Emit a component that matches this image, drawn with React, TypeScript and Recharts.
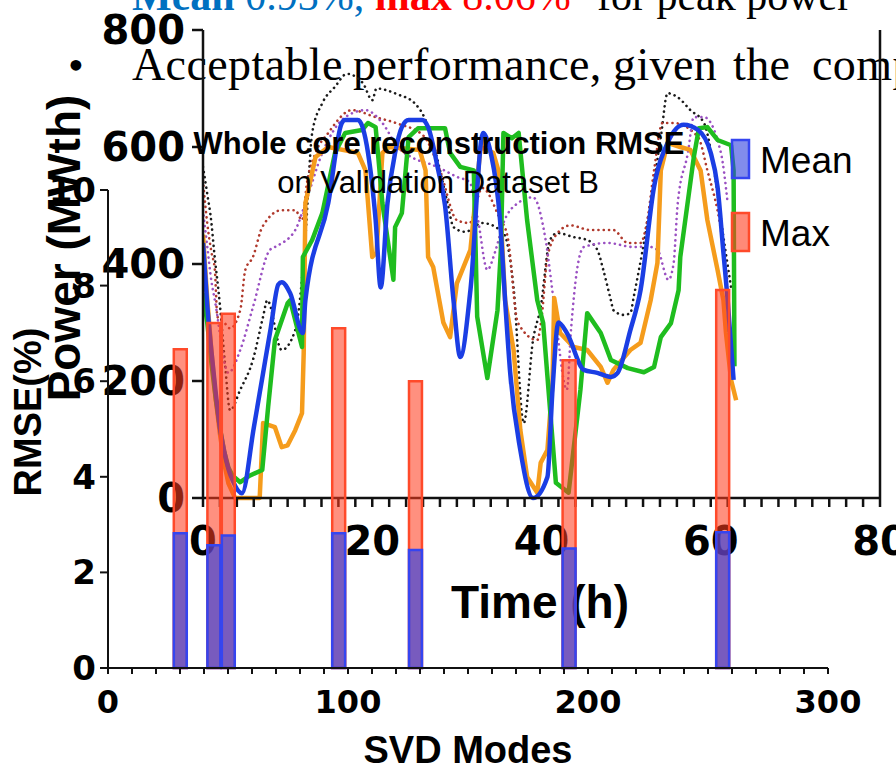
import React from 'react';
import { LineChart, Line, BarChart, Bar, XAxis, YAxis, Legend } from 'recharts';

// ---- RMSE bar chart (SVD modes) ----
const svdModes = [30, 44, 50, 96, 128, 192, 256];
const meanRmse = [2.82, 2.57, 2.77, 2.82, 2.47, 2.5, 2.84];
const maxRmse = [6.67, 7.22, 7.41, 7.11, 6.0, 6.44, 7.91];
const rmseTicks = [0, 2, 4, 6, 8, 10];
const modeTicks = [0, 10, 20, 30, 40, 50, 60, 70, 80, 90, 100, 110, 120, 130, 140, 150, 160, 170, 180, 190, 200, 210, 220, 230, 240, 250, 260, 270, 280, 290, 300];
const modeLabels = [0, 100, 200, 300];

// ---- Power vs time line chart ----
const timeTicks = [0, 2, 4, 6, 8, 10, 12, 14, 16, 18, 20, 22, 24, 26, 28, 30, 32, 34, 36, 38, 40, 42, 44, 46, 48, 50, 52, 54, 56, 58, 60, 62, 64, 66, 68, 70, 72, 74, 76, 78, 80];
const timeLabels = [0, 20, 40, 60, 80];
const powerTicks = [0, 200, 400, 600, 800];
const rightTicks = [0, 20, 40, 60, 80, 100, 120];

const blueTime = [0, 0.5, 1, 1.5, 2, 2.5, 3, 3.5, 4.6, 6, 7, 8, 8.9, 9.3, 10.3, 11.8, 12.1, 14.8, 16.4, 16.8, 18.3, 19.5, 20.4, 21, 21.8, 22.7, 23.5, 24.3, 25.9, 26.6, 27.8, 28.6, 29.6, 30.4, 31.6, 33.1, 34, 35.1, 35.7, 36.3, 37.5, 39, 40.7, 41.3, 42, 43, 45, 46.6, 48.2, 49, 50.5, 51.7, 53.3, 54.9, 56.8, 58.5, 60, 60.8, 61.5, 62, 62.7];
const bluePower = [436, 330, 250, 180, 120, 80, 50, 30, 8, 120, 205, 290, 365, 369, 350, 282, 338, 504, 641, 646, 646, 590, 475, 360, 504, 590, 634, 646, 646, 634, 560, 500, 338, 241, 355, 624, 590, 475, 338, 214, 82, 0, 36, 185, 300, 282, 219, 214, 207, 214, 287, 355, 532, 607, 638, 629, 590, 532, 419, 338, 202];

const greenTime = [0, 0.5, 1, 1.5, 2, 2.5, 3, 3.5, 4.4, 5.5, 7, 7.7, 8.5, 10, 10.3, 11.7, 11.8, 12.9, 14.1, 15.6, 16.8, 18.8, 19.5, 20.4, 21.2, 22.5, 22.7, 23.5, 24.3, 25.4, 28.6, 29.2, 30.4, 32, 32.4, 33.6, 34.8, 35.2, 35.5, 36.5, 37.3, 38.3, 39.5, 40.2, 41.7, 43.2, 44.6, 45.4, 47, 48.2, 50.2, 52.1, 53.3, 54.1, 55.3, 56.2, 56.4, 58, 58.6, 59.6, 60.8, 62.4, 62.7, 62.8];
const greenPower = [350, 300, 230, 170, 120, 80, 52, 38, 27, 38, 48, 156, 270, 333, 338, 258, 412, 441, 487, 590, 624, 629, 641, 634, 504, 373, 463, 487, 617, 632, 632, 590, 566, 560, 310, 205, 321, 424, 624, 615, 624, 475, 338, 299, 26, 9, 185, 316, 282, 236, 222, 215, 224, 275, 299, 355, 412, 583, 632, 634, 612, 603, 560, 225];

const orangeTime = [0, 0.5, 1, 1.5, 2, 2.5, 3, 3.8, 6.7, 7.1, 8.5, 9.3, 10, 10.9, 11.7, 11.9, 12.1, 13.3, 14.8, 18.3, 19.2, 20, 20.5, 21.2, 22, 25.6, 26.3, 26.6, 27.2, 28.4, 29.2, 30, 31.6, 32.8, 34.3, 34.9, 35.7, 36.7, 37.5, 38.3, 39.5, 39.9, 40.7, 41.3, 41.5, 42.2, 43.8, 45.4, 47, 47.8, 48.5, 50.5, 51.7, 52.9, 53.7, 54.1, 54.9, 56.4, 57.6, 58.8, 59.6, 60.8, 61.5, 61.8, 62.4, 63];
const orangePower = [450, 340, 250, 170, 110, 60, 25, 0, 0, 128, 121, 87, 90, 116, 145, 248, 504, 583, 600, 590, 560, 412, 420, 590, 600, 595, 560, 412, 395, 300, 275, 367, 424, 600, 590, 560, 338, 253, 116, 36, 9, 60, 82, 197, 342, 282, 258, 253, 224, 197, 219, 253, 265, 338, 402, 560, 607, 600, 595, 560, 475, 390, 338, 282, 202, 167];

const blackTime = [0, 0.5, 1, 1.3, 2, 2.6, 3.2, 4.4, 5.9, 7.1, 7.6, 9.3, 10.9, 12.1, 12.9, 14.1, 15.6, 17, 18.9, 20, 20.5, 23, 25, 26.3, 27.5, 28.9, 29.6, 31, 33, 35.5, 36.7, 37.9, 39, 39.9, 41, 41.9, 43.8, 45.4, 46.6, 47.3, 48.2, 48.5, 49.7, 50.5, 50.9, 52.9, 54.1, 54.9, 56.1, 57.6, 59.2, 60.4, 61.5, 62.4];
const blackPower = [566, 520, 470, 424, 330, 230, 150, 185, 236, 310, 338, 253, 287, 446, 624, 675, 703, 725, 709, 680, 700, 690, 675, 646, 590, 504, 463, 455, 470, 453, 360, 128, 270, 326, 441, 453, 446, 441, 424, 390, 338, 321, 313, 316, 344, 504, 617, 692, 685, 663, 641, 560, 446, 360];

const brownTime = [0, 0.5, 1, 1.4, 1.7, 2.5, 3.2, 4.4, 5, 5.9, 7, 9.3, 10.9, 11.7, 12.3, 13.3, 14.8, 17.6, 20.4, 23, 26, 28, 30, 31.5, 33, 35, 36, 37.2, 39.5, 40, 40.7, 41.9, 43.4, 45.8, 48.5, 50.2, 51.7, 52.5, 53.3, 54.3, 55.6, 58.5, 59.6, 61.2, 62];
const brownPower = [543, 470, 420, 390, 310, 300, 290, 321, 390, 412, 463, 492, 492, 475, 540, 590, 624, 663, 651, 640, 620, 560, 475, 470, 530, 480, 446, 300, 270, 307, 412, 453, 466, 458, 458, 436, 436, 475, 560, 641, 641, 617, 560, 458, 367];

const purpleTime = [0, 0.5, 1, 1.4, 3, 4.4, 5.9, 7.9, 8.5, 10.9, 12.1, 14.1, 16.8, 19.2, 21.2, 23, 25, 27, 28.5, 30, 31.5, 32.5, 33.6, 34.5, 35.5, 37.2, 39, 40.5, 41.5, 43, 43.5, 44.2, 45, 47.8, 50.9, 52.5, 53.7, 55, 55.6, 56.1, 57.3, 58, 59.2, 61.2, 62];
const purplePower = [492, 430, 370, 338, 214, 253, 326, 424, 429, 458, 504, 590, 651, 663, 641, 600, 580, 570, 560, 549, 540, 475, 390, 420, 470, 504, 514, 440, 330, 185, 290, 390, 429, 436, 429, 430, 424, 373, 400, 504, 590, 651, 651, 590, 504];

const toPoints = (times: number[], values: number[]) => times.map((t, i) => ({ t, p: values[i] }));

const barRows = svdModes.map((mode, i) => ({ mode, mean: meanRmse[i], max: maxRmse[i] }));

const tickFont = "'DejaVu Sans', Verdana, sans-serif";
const titleFont = "'Liberation Sans', Arial, Helvetica, sans-serif";
const serifFont = "'Liberation Serif', 'Times New Roman', serif";

const AxisTitle = (props: any) => {
  const { px, py, text, size, rot } = props;
  return (
    <text
      x={px}
      y={py}
      textAnchor="middle"
      fontFamily={titleFont}
      fontWeight="bold"
      fontSize={size}
      fill="#000"
      transform={rot ? `rotate(-90, ${px}, ${py})` : undefined}
    >
      {text}
    </text>
  );
};

const RmseLegend = (props: any) => {
  const items = [...(props.payload ?? [])].reverse();
  return (
    <svg width={160} height={120} style={{ overflow: 'visible' }}>
      {items.map((it: any, i: number) => (
        <g key={it.value}>
          <rect
            x={1}
            y={2 + i * 73}
            width={17}
            height={38}
            fill={it.color}
            fillOpacity={0.6}
            stroke={it.payload?.stroke ?? it.color}
            strokeWidth={2.5}
          />
          <text x={29} y={35 + i * 73} fontFamily={titleFont} fontSize={37} fill="#000">
            {it.value}
          </text>
        </g>
      ))}
    </svg>
  );
};

const solid = { dot: false, isAnimationActive: false, strokeWidth: 4.5, strokeLinejoin: 'round' as const };
const dotted = { dot: false, isAnimationActive: false, strokeWidth: 2.6, strokeDasharray: '0.1 5.2', strokeLinecap: 'round' as const };

export default function App() {
  return (
    <div style={{ position: 'absolute', left: 0, top: 0, width: 896, height: 768, background: '#fff', overflow: 'hidden' }}>
      {/* slide text underneath the charts */}
      <svg width={896} height={768} style={{ position: 'absolute', left: 0, top: 0 }}>
        <text x={132} y={10} fontFamily={serifFont} fontSize={42}>
          <tspan fill="#0070c0" fontWeight="bold">Mean </tspan>
          <tspan fill="#0070c0">0.93%, </tspan>
          <tspan fill="#ff0000" fontWeight="bold">max </tspan>
          <tspan fill="#ff0000">8.06% </tspan>
          <tspan x={597} fill="#000">for peak power</tspan>
        </text>
        <text x={68} y={80} fontFamily={serifFont} fontSize={45} fill="#000">•</text>
        <text y={80} fontFamily={serifFont} fontSize={46} letterSpacing={0.4} fill="#000">
          <tspan x={132}>Acceptable</tspan>
          <tspan x={353}>performance,</tspan>
          <tspan x={613}>given</tspan>
          <tspan x={733}>the</tspan>
          <tspan x={812}>comp</tspan>
        </text>
      </svg>

      {/* power trajectories */}
      <LineChart width={896} height={768} margin={{ top: 30, right: 0, bottom: 0, left: 0 }} style={{ position: 'absolute', left: 0, top: 0 }}>
        <XAxis
          xAxisId="t"
          type="number"
          dataKey="t"
          domain={[0, 80]}
          ticks={timeTicks}
          interval={0}
          allowDataOverflow
          height={270}
          tickSize={9}
          tickMargin={20}
          stroke="#111"
          strokeWidth={2.5}
          tickFormatter={(v: number) => (timeLabels.includes(v) ? String(v) : '')}
          tick={{ fontFamily: tickFont, fontWeight: 'bold', fontSize: 40, fill: '#000' }}
          label={<AxisTitle px={540} py={618} text="Time (h)" size={46} />}
        />
        <XAxis xAxisId="top" orientation="top" type="number" domain={[0, 80]} height={0} tick={false} tickLine={false} stroke="#222" strokeWidth={2.5} />
        <YAxis
          yAxisId="p"
          type="number"
          domain={[0, 800]}
          ticks={powerTicks}
          interval={0}
          width={203}
          tickSize={11}
          tickMargin={7}
          stroke="#111"
          strokeWidth={2.5}
          tick={{ fontFamily: tickFont, fontWeight: 'bold', fontSize: 40, fill: '#000' }}
          label={<AxisTitle px={80} py={248} text="Power (MWth)" size={46} rot />}
        />
        <YAxis
          yAxisId="r"
          orientation="right"
          type="number"
          domain={[0, 120]}
          ticks={rightTicks}
          interval={0}
          width={16}
          tickSize={14}
          stroke="#111"
          strokeWidth={2.5}
          tickFormatter={() => ''}
        />
        <Line xAxisId="t" yAxisId="p" data={toPoints(blackTime, blackPower)} dataKey="p" type="monotone" stroke="#1a1a1a" {...dotted} />
        <Line xAxisId="t" yAxisId="p" data={toPoints(brownTime, brownPower)} dataKey="p" type="monotone" stroke="#b0392c" {...dotted} />
        <Line xAxisId="t" yAxisId="p" data={toPoints(purpleTime, purplePower)} dataKey="p" type="monotone" stroke="#9a50c2" {...dotted} />
        <Line xAxisId="t" yAxisId="p" data={toPoints(orangeTime, orangePower)} dataKey="p" type="linear" stroke="#f59c1c" {...solid} />
        <Line xAxisId="t" yAxisId="p" data={toPoints(greenTime, greenPower)} dataKey="p" type="linear" stroke="#1fbd1f" {...solid} />
        <Line xAxisId="t" yAxisId="p" data={toPoints(blueTime, bluePower)} dataKey="p" type="monotone" stroke="#1b3ee4" {...solid} />
      </LineChart>

      {/* RMSE vs SVD modes, drawn over the power plot */}
      <BarChart
        width={896}
        height={768}
        data={barRows}
        barSize={17}
        margin={{ top: 190, right: 68, bottom: 0, left: 0 }}
        style={{ position: 'absolute', left: 0, top: 0 }}
      >
        <XAxis
          xAxisId="max"
          type="number"
          dataKey="mode"
          domain={[0, 300]}
          ticks={modeTicks}
          interval={0}
          height={100}
          tickSize={6}
          tickMargin={16}
          stroke="#111"
          strokeWidth={2}
          tickFormatter={(v: number) => (modeLabels.includes(v) ? String(v) : '')}
          tick={{ fontFamily: tickFont, fontWeight: 'bold', fontSize: 32, fill: '#000' }}
          label={<AxisTitle px={468} py={763} text="SVD Modes" size={38} />}
        />
        <XAxis xAxisId="mean" type="number" dataKey="mode" domain={[0, 300]} hide />
        <YAxis
          type="number"
          domain={[0, 10]}
          ticks={rmseTicks}
          interval={0}
          width={108}
          tickSize={8}
          tickMargin={4}
          stroke="#111"
          strokeWidth={2}
          tick={{ fontFamily: tickFont, fontWeight: 'bold', fontSize: 34, fill: '#000' }}
          label={<AxisTitle px={41} py={412} text="RMSE(%)" size={38} rot />}
        />
        <Bar xAxisId="max" dataKey="max" name="Max" fill="#ff3c1e" fillOpacity={0.57} stroke="#ff4a2a" strokeWidth={2.5} isAnimationActive={false} />
        <Bar xAxisId="mean" dataKey="mean" name="Mean" fill="#2f3fe0" fillOpacity={0.65} stroke="#3545f0" strokeWidth={2.5} isAnimationActive={false} />
        <Legend
          layout="vertical"
          align="center"
          verticalAlign="middle"
          content={<RmseLegend />}
          wrapperStyle={{ left: 731, top: 138, width: 160, height: 120 }}
        />
      </BarChart>

      {/* chart title */}
      <svg width={896} height={768} style={{ position: 'absolute', left: 0, top: 0, pointerEvents: 'none' }}>
        <text x={439} y={154} textAnchor="middle" fontFamily={titleFont} fontWeight="bold" fontSize={31} fill="#000">
          Whole core reconstruction RMSE
        </text>
        <text x={438} y={193} textAnchor="middle" fontFamily={titleFont} fontSize={31} fill="#000">
          on Validation Dataset B
        </text>
      </svg>
    </div>
  );
}
